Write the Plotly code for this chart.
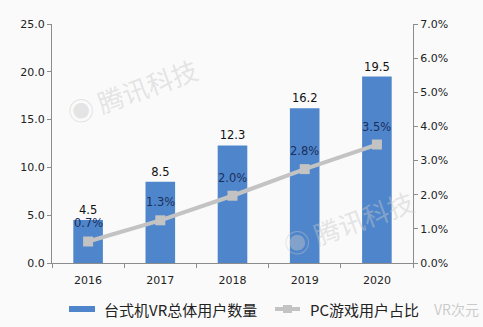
import plotly.graph_objects as go

years = ["2016", "2017", "2018", "2019", "2020"]
vr_users = [4.5, 8.5, 12.3, 16.2, 19.5]
pc_share = [0.63, 1.25, 1.97, 2.75, 3.47]
pc_share_labels = ["0.7%", "1.3%", "2.0%", "2.8%", "3.5%"]
bar_name = "台式机VR总体用户数量"
line_name = "PC游戏用户占比"

BAR_COLOR = "#4f86cb"
LINE_COLOR = "#c3c3c3"
FONT = "DejaVu Sans, Noto Sans CJK SC"

fig = go.Figure()
fig.add_trace(go.Bar(
    x=years, y=vr_users, name=bar_name,
    marker=dict(color=BAR_COLOR, line=dict(width=0)),
    width=0.41,
    text=[f"{v:.1f}" for v in vr_users], textposition="outside",
    textfont=dict(size=11.5, color="#111111", family=FONT),
    cliponaxis=False, showlegend=False,
))
fig.add_trace(go.Scatter(
    x=years, y=pc_share, name=line_name, yaxis="y2",
    mode="lines+markers",
    line=dict(color=LINE_COLOR, width=4),
    marker=dict(symbol="square", size=10, color=LINE_COLOR),
    cliponaxis=False, showlegend=False,
))
# category index positions on the category axis (x values as indices avoid numeric-string ambiguity)
for idx, (val, lab) in enumerate(zip(pc_share, pc_share_labels)):
    fig.add_annotation(x=idx, y=val, xref="x", yref="y2", text=lab, showarrow=False,
                       yshift=18, xanchor="center", yanchor="middle",
                       font=dict(size=11.5, color="#1b2f5e", family=FONT))

axis_common = dict(
    showgrid=False, zeroline=False, showline=True, linecolor="#8c8c8c", linewidth=1,
    ticks="outside", ticklen=4, tickcolor="#8c8c8c",
    tickfont=dict(size=11, color="#222222", family=FONT),
)

fig.update_layout(
    width=483, height=327,
    margin=dict(l=52, r=70, t=24, b=64),
    paper_bgcolor="#fafafa", plot_bgcolor="#fafafa",
    font=dict(family=FONT),
    bargap=0.59,
    xaxis=dict(**axis_common, type="category", tickson="boundaries", ticklabelstandoff=7,
               range=[-0.5, len(years) - 0.5]),
    yaxis=dict(**axis_common, range=[0, 25], dtick=5, tickformat=".1f"),
    yaxis2=dict(**axis_common, range=[0, 7], dtick=1, tickformat=".1f", ticksuffix="%",
                overlaying="y", side="right"),
)

# custom legend
fig.add_shape(type="rect", xref="paper", yref="paper",
              x0=(69 - 52) / 361, x1=(95 - 52) / 361,
              y0=-(306 - 263) / 239, y1=-(312 - 263) / 239,
              fillcolor=BAR_COLOR, line=dict(width=0))
fig.add_annotation(xref="paper", yref="paper", x=(102 - 52) / 361, y=-(309 - 263) / 239,
                   text=bar_name, showarrow=False, xanchor="left", yanchor="middle",
                   font=dict(size=15, color="#222222", family="Noto Sans CJK SC"))
fig.add_shape(type="line", xref="paper", yref="paper",
              x0=(275 - 52) / 361, x1=(300 - 52) / 361,
              y0=-(309 - 263) / 239, y1=-(309 - 263) / 239,
              line=dict(color=LINE_COLOR, width=4))
fig.add_shape(type="rect", xref="paper", yref="paper",
              x0=(283 - 52) / 361, x1=(292 - 52) / 361,
              y0=-(305 - 263) / 239, y1=-(313 - 263) / 239,
              fillcolor=LINE_COLOR, line=dict(width=0))
fig.add_annotation(xref="paper", yref="paper", x=(308 - 52) / 361, y=-(309 - 263) / 239,
                   text=line_name, showarrow=False, xanchor="left", yanchor="middle",
                   font=dict(size=15, color="#222222", family="Noto Sans CJK SC"))

# watermarks
for wx, wy in [(132, 90), (348, 222)]:
    fig.add_annotation(xref="paper", yref="paper", x=(wx - 52) / 361, y=(263 - wy) / 239,
                       xanchor="center", yanchor="middle",
                       text="◉ 腾讯科技", showarrow=False, textangle=-20,
                       font=dict(size=26, color="rgba(200,200,200,0.45)", family="Noto Sans CJK SC"))
fig.add_annotation(xref="paper", yref="paper", x=(432 - 52) / 361, y=-(309 - 263) / 239,
                   xanchor="left", yanchor="middle",
                   text="VR次元", showarrow=False,
                   font=dict(size=14, color="rgba(170,170,170,0.6)", family="Noto Sans CJK SC"))

fig.write_html("out.html")
